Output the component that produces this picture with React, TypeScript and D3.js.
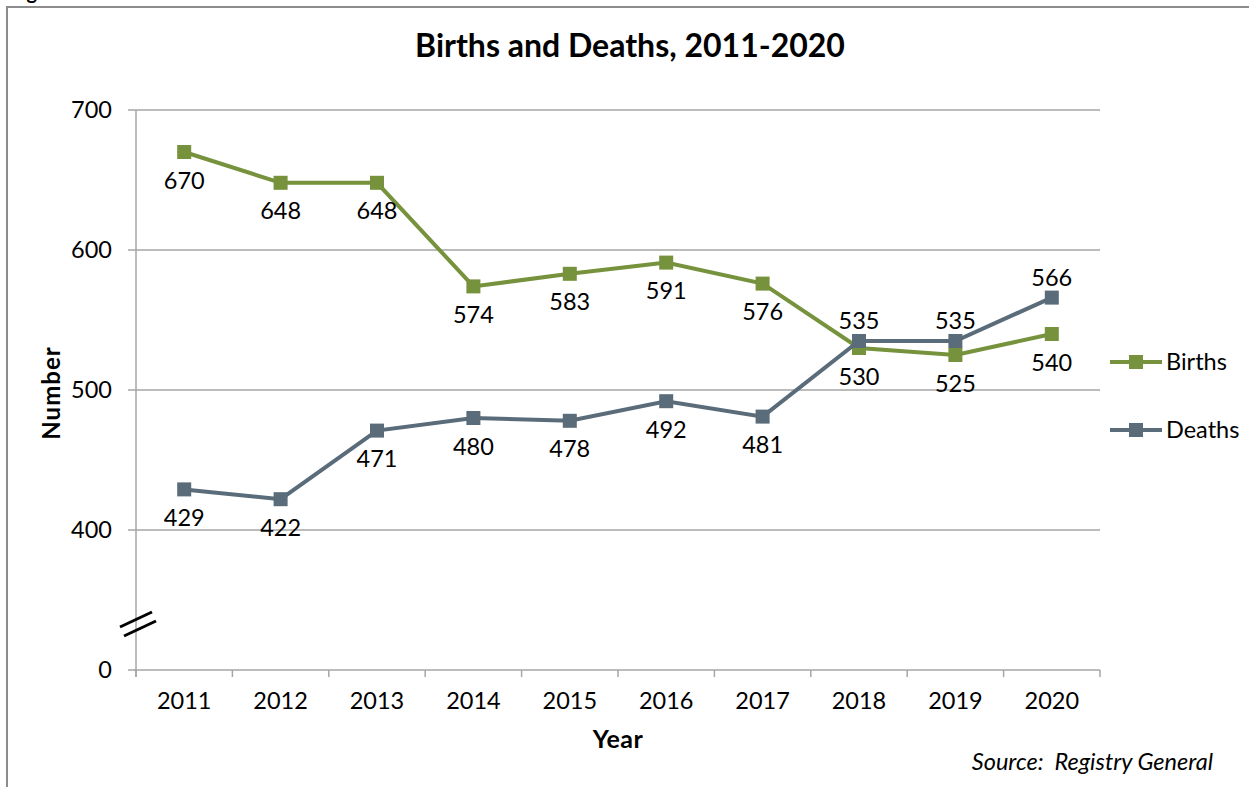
import * as d3 from "d3";
import React from "react";

const years = ["2011", "2012", "2013", "2014", "2015", "2016", "2017", "2018", "2019", "2020"];
const births = [670, 648, 648, 574, 583, 591, 576, 530, 525, 540];
const deaths = [429, 422, 471, 480, 478, 492, 481, 535, 535, 566];
// Deaths labels sit above the point for the last three years
const deathsLabelAbove = [false, false, false, false, false, false, false, true, true, true];
// axis runs 300-700 with a break, bottom tick shown as 0
const yTicks = [300, 400, 500, 600, 700];
const yTickLabels = ["0", "400", "500", "600", "700"];

const W = 1249;
const H = 787;
const FONT = "Lato, 'Open Sans', sans-serif";
const GREEN = "#76923C";
const SLATE = "#5A6B79";
const GRID = "#A6A6A6";

export default function App() {
  const margin = { top: 110, right: 149, bottom: 117, left: 136 };

  const x = d3
    .scaleBand()
    .domain(years)
    .range([margin.left, W - margin.right]);

  const y = d3
    .scaleLinear()
    .domain([300, 700])
    .range([H - margin.bottom, margin.top]);

  const cx = (yr: string) => (x(yr) ?? 0) + x.bandwidth() / 2;

  const line = d3
    .line<number>()
    .x((_, i) => cx(years[i]))
    .y((d) => y(d));

  const series = [
    { name: "Births", values: births, color: GREEN, above: births.map(() => false) },
    { name: "Deaths", values: deaths, color: SLATE, above: deathsLabelAbove },
  ];

  const bottom = y(300);
  const boundaries = years.map((yr) => x(yr) ?? 0).concat([W - margin.right]);

  return (
    <svg
      width={W}
      height={H}
      style={{ position: "absolute", left: 0, top: 0, background: "#fff" }}
      fontFamily={FONT}
    >
      {/* outer frame, cut at right and bottom */}
      <path d={`M7,${H} V7 H${W}`} fill="none" stroke="#8C8C8C" strokeWidth={2} />
      <text x={10} y={-1} fontSize={20} fontWeight="bold" fill="#000">
        Figure 2
      </text>

      <text x={630} y={57} textAnchor="middle" fontSize={32} fontWeight="bold">
        Births and Deaths, 2011-2020
      </text>

      {/* gridlines */}
      {yTicks
        .filter((t) => t !== 300)
        .map((t) => (
          <line
            key={t}
            x1={margin.left}
            x2={W - margin.right}
            y1={y(t)}
            y2={y(t)}
            stroke={GRID}
            strokeWidth={1.5}
          />
        ))}

      {/* y axis */}
      <line x1={margin.left} x2={margin.left} y1={margin.top} y2={bottom + 7} stroke={GRID} strokeWidth={1.5} />
      {yTicks.map((t, i) => (
        <g key={t}>
          <line x1={margin.left - 8} x2={margin.left} y1={y(t)} y2={y(t)} stroke={GRID} strokeWidth={1.5} />
          <text x={112} y={y(t)} dy="0.36em" textAnchor="end" fontSize={23.5}>
            {yTickLabels[i]}
          </text>
        </g>
      ))}

      {/* axis break */}
      <line x1={120} y1={627} x2={152} y2={612} stroke="#000" strokeWidth={3} />
      <line x1={124} y1={636} x2={156} y2={621} stroke="#000" strokeWidth={3} />

      {/* x axis */}
      <line x1={margin.left - 2} x2={W - margin.right} y1={bottom} y2={bottom} stroke={GRID} strokeWidth={1.5} />
      {boundaries.map((bx, i) => (
        <line key={i} x1={bx} x2={bx} y1={bottom} y2={bottom + 7} stroke={GRID} strokeWidth={1.5} />
      ))}
      {years.map((yr) => (
        <text key={yr} x={cx(yr)} y={708.5} textAnchor="middle" fontSize={23.5}>
          {yr}
        </text>
      ))}

      <text x={618} y={748} textAnchor="middle" fontSize={25} fontWeight="bold" letterSpacing={0.5}>
        Year
      </text>
      <text
        transform={`translate(60,393) rotate(-90)`}
        textAnchor="middle"
        fontSize={24}
        fontWeight="bold"
        letterSpacing={1}
      >
        Number
      </text>

      {/* series */}
      {series.map((s) => (
        <g key={s.name}>
          <path d={line(s.values) ?? ""} fill="none" stroke={s.color} strokeWidth={4} />
          {s.values.map((v, i) => (
            <rect
              key={i}
              x={cx(years[i]) - 7}
              y={y(v) - 7}
              width={14}
              height={14}
              fill={s.color}
            />
          ))}
        </g>
      ))}
      {series.map((s) =>
        s.values.map((v, i) => (
          <text
            key={s.name + i}
            x={cx(years[i])}
            y={s.above[i] ? y(v) - 12 : y(v) + 36.5}
            textAnchor="middle"
            fontSize={23.5}
          >
            {v}
          </text>
        ))
      )}

      {/* legend */}
      {series.map((s, i) => {
        const ly = 362 + i * 68;
        return (
          <g key={s.name}>
            <line x1={1110} x2={1162} y1={ly} y2={ly} stroke={s.color} strokeWidth={4} />
            <rect x={1129} y={ly - 7} width={14} height={14} fill={s.color} />
            <text x={1166} y={ly} dy="0.36em" fontSize={23.5}>
              {s.name}
            </text>
          </g>
        );
      })}

      <text x={1213} y={770} textAnchor="end" fontSize={23.5} fontStyle="italic">
        Source:{"\u00a0\u00a0"}Registry General
      </text>
    </svg>
  );
}
